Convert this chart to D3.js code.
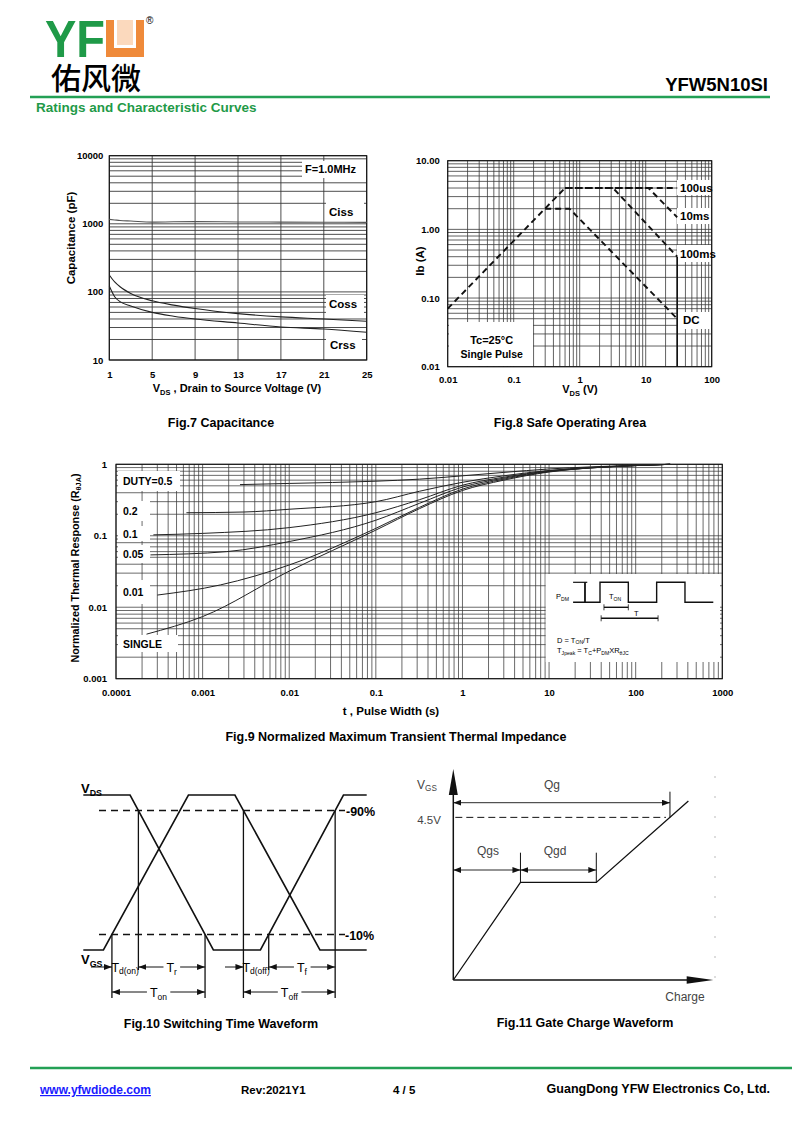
<!DOCTYPE html>
<html>
<head>
<meta charset="utf-8">
<script src="https://cdn.jsdelivr.net/npm/d3@7"></script>
<style>
  body { margin: 0; background: #fff; }
  svg text { font-family: "Liberation Sans", Arial, sans-serif; }
</style>
</head>
<body>
<svg id="page" width="800" height="1130"></svg>
<script>
// ---------- data ----------
// Fig.7 capacitance (pF) vs VDS (V)
const capVds  = [1, 1.5, 2, 3, 5, 7, 9, 13, 17, 21, 25];
const ciss    = [1160, 1140, 1120, 1100, 1060, 1070, 1075, 1065, 1060, 1055, 1050];
const coss    = [177, 140, 119, 95, 74, 64, 57, 48, 43, 40, 37];
const crss    = [122, 85, 72, 62, 50, 44, 40, 35, 30.5, 28.5, 25.5];
const capXTicks = [1, 5, 9, 13, 17, 21, 25];
const capYTicks = [10, 100, 1000, 10000];

// Fig.8 safe operating area, VDS (V) / ID (A)
const soaV100us = [0.01, 0.6, 30];
const soaI100us = [0.07, 4, 4];
const soaV10ms  = [0.6, 11, 30];
const soaI10ms  = [4, 4, 1.5];
const soaV100ms = [0.6, 3.2, 30];
const soaI100ms = [4, 4, 0.4];
const soaVdc    = [0.3, 0.7, 30];
const soaIdc    = [2, 2, 0.05];
const soaVmax   = 30;
const soaXTicks = [0.01, 0.1, 1, 10, 100];
const soaYTicks = [0.01, 0.1, 1, 10];

// Fig.9 normalized transient thermal impedance vs pulse width (s)
const zthT05   = [0.0027, 0.01, 0.1, 0.32, 1, 3, 10, 30, 100, 250];
const zth05    = [0.52, 0.54, 0.58, 0.62, 0.69, 0.77, 0.86, 0.92, 0.97, 1];
const zthT02   = [0.00065, 0.003, 0.01, 0.1, 0.32, 1, 3, 10, 30, 100, 250];
const zth02    = [0.21, 0.215, 0.235, 0.3, 0.42, 0.56, 0.69, 0.82, 0.9, 0.96, 1];
const zthT01   = [0.00027, 0.001, 0.01, 0.1, 0.32, 1, 3, 10, 30, 100, 250];
const zth01    = [0.103, 0.108, 0.13, 0.21, 0.32, 0.51, 0.66, 0.81, 0.9, 0.96, 1];
const zthT005  = [0.00025, 0.0019, 0.01, 0.1, 0.32, 1, 3, 10, 30, 100, 250];
const zth005   = [0.054, 0.06, 0.083, 0.165, 0.285, 0.48, 0.64, 0.8, 0.89, 0.96, 1];
const zthT001  = [0.0003, 0.0016, 0.01, 0.1, 0.32, 1, 3, 10, 30, 100, 250];
const zth001   = [0.0148, 0.0205, 0.039, 0.127, 0.25, 0.45, 0.62, 0.79, 0.89, 0.96, 1];
const zthTsgl  = [0.000225, 0.001, 0.01, 0.1, 0.32, 1, 3, 10, 30, 100, 250];
const zthSgl   = [0.0042, 0.0074, 0.032, 0.12, 0.24, 0.43, 0.6, 0.78, 0.89, 0.96, 1];
const dutyLabels = ['DUTY=0.5', '0.2', '0.1', '0.05', '0.01', 'SINGLE'];
const zthXTicks = [0.0001, 0.001, 0.01, 0.1, 1, 10, 100, 1000];
const zthYTicks = [0.001, 0.01, 0.1, 1];

// Fig.10 switching waveform (time units 0..100, level 0..1)
const swT   = [0, 16.5, 45.9, 62.5, 91.8, 100];
const vdsLv = [1, 1, 0, 0, 1, 1];
const gsT   = [0, 7.1, 37.1, 53.5, 83.5, 100];
const vgsLv = [0, 0, 1, 1, 0, 0];

// Fig.11 gate charge (arbitrary charge units, V)
const gcQ = [0, 3.1, 6.6, 10.85];
const gcV = [0, 2.7, 2.7, 4.95];
const gcVth = 4.5;

// Fig.9 inset pulse train
const pulseT = [-0.95, 0, 0, 1, 1, 2, 2, 3, 3, 4];
const pulseL = [0, 0, 1, 1, 0, 0, 1, 1, 0, 0];

// ---------- helpers ----------
const svg = d3.select('#page');
const GREEN = '#23a055';

function decades(lo, hi) {
  const out = [];
  for (let e = Math.round(Math.log10(lo)); e < Math.round(Math.log10(hi)); e++)
    for (let m = 1; m < 10; m++) out.push(+(m * Math.pow(10, e)).toPrecision(3));
  out.push(hi);
  return out;
}

function rich(text, s, k) {
  k = k || 3;
  let down = false;
  s.split(/(_\{[^}]*\})/).filter(p => p).forEach(p => {
    const isSub = p.startsWith('_{');
    const t = text.append('tspan').text(isSub ? p.slice(2, -1) : p);
    if (isSub) {
      t.attr('font-size', '0.68em');
      if (!down) { t.attr('dy', k); down = true; }
    } else if (down) { t.attr('dy', -k); down = false; }
  });
  return text;
}

function label(g, x, y, s, size, opts) {
  opts = opts || {};
  const t = g.append('text').attr('x', x).attr('y', y)
    .attr('font-size', size)
    .attr('font-weight', opts.weight || 'bold')
    .attr('fill', opts.fill || '#000')
    .attr('text-anchor', opts.anchor || 'start');
  if (opts.rotate) t.attr('transform', `rotate(-90,${x},${y})`);
  return rich(t, s, opts.k);
}

function grid(g, x, y, xs, ys, color, width) {
  const [xa, xb] = x.range(), [ya, yb] = y.range();
  const gg = g.append('g').attr('stroke', color).attr('stroke-width', width);
  gg.selectAll('.gh').data(ys).join('line')
    .attr('x1', xa).attr('x2', xb).attr('y1', d => y(d)).attr('y2', d => y(d));
  gg.selectAll('.gv').data(xs).join('line')
    .attr('y1', ya).attr('y2', yb).attr('x1', d => x(d)).attr('x2', d => x(d));
  g.append('rect').attr('x', xa).attr('y', yb).attr('width', xb - xa).attr('height', ya - yb)
    .attr('fill', 'none').attr('stroke', '#111').attr('stroke-width', 1.1);
}

function styleAxis(a) {
  a.select('.domain').remove();
  a.attr('font-family', '"Liberation Sans", Arial, sans-serif')
   .attr('font-size', 9.5).attr('font-weight', 'bold');
}

function whiteBox(g, x0, y0, x1, y1) {
  g.append('rect').attr('x', x0).attr('y', y0).attr('width', x1 - x0).attr('height', y1 - y0)
    .attr('fill', '#fff');
}

// ---------- header / footer ----------
const hd = svg.append('g');
hd.append('text').attr('x', 45).attr('y', 57).attr('font-size', 52).attr('font-weight', 'bold')
  .attr('fill', '#1f9a48').attr('textLength', 60).attr('lengthAdjust', 'spacingAndGlyphs').text('YF');
hd.append('rect').attr('x', 106).attr('y', 20).attr('width', 38).attr('height', 37).attr('fill', '#ef8a3a');
hd.append('rect').attr('x', 114).attr('y', 20).attr('width', 22).attr('height', 28).attr('fill', '#fff');
hd.append('rect').attr('x', 117).attr('y', 20).attr('width', 16).attr('height', 25).attr('fill', '#fbd9bd');
hd.append('text').attr('x', 146).attr('y', 24).attr('font-size', 10).text('®');
hd.append('text').attr('x', 51).attr('y', 89).attr('font-size', 30)
  .style('font-family', '"Noto Sans CJK SC", sans-serif').attr('font-weight', 500).text('佑风微');
hd.append('text').attr('x', 768).attr('y', 91).attr('font-size', 18.5).attr('font-weight', 'bold')
  .attr('text-anchor', 'end').text('YFW5N10SI');
hd.append('line').attr('x1', 30).attr('x2', 770).attr('y1', 97).attr('y2', 97)
  .attr('stroke', GREEN).attr('stroke-width', 2.5);
hd.append('text').attr('x', 36).attr('y', 112).attr('font-size', 13.5).attr('font-weight', 'bold')
  .attr('fill', '#1f9a48').text('Ratings and Characteristic Curves');

const ft = svg.append('g');
ft.append('line').attr('x1', 30).attr('x2', 792).attr('y1', 1068).attr('y2', 1068)
  .attr('stroke', GREEN).attr('stroke-width', 2.5);
ft.append('text').attr('x', 40).attr('y', 1094).attr('font-size', 12).attr('font-weight', 'bold')
  .attr('fill', '#1a1aff').attr('text-decoration', 'underline').text('www.yfwdiode.com');
ft.append('text').attr('x', 241).attr('y', 1094).attr('font-size', 11.5).attr('font-weight', 'bold').text('Rev:2021Y1');
ft.append('text').attr('x', 393).attr('y', 1094).attr('font-size', 11.5).attr('font-weight', 'bold').text('4 / 5');
ft.append('text').attr('x', 770).attr('y', 1093).attr('font-size', 12.5).attr('font-weight', 'bold')
  .attr('text-anchor', 'end').text('GuangDong YFW Electronics Co, Ltd.');

// ---------- Fig.7 capacitance ----------
const g7 = svg.append('g');
const x7 = d3.scaleLinear().domain([1, 25]).range([109.3, 366.7]);
const y7 = d3.scaleLog().domain([10, 10000]).range([360, 155.7]);
grid(g7, x7, y7, capXTicks, decades(10, 10000), '#3a3a3a', 0.9);
whiteBox(g7, 302, 161, 366, 178);
whiteBox(g7, 326, 201, 364, 221);
whiteBox(g7, 326, 295, 364, 313);
whiteBox(g7, 326, 336, 362, 354);
g7.append('g').attr('transform', 'translate(0,360)')
  .call(d3.axisBottom(x7).tickValues(capXTicks).tickSize(0).tickPadding(11)).call(styleAxis);
g7.append('g').attr('transform', 'translate(109.3,0)')
  .call(d3.axisLeft(y7).tickValues(capYTicks).tickFormat(d3.format('d')).tickSize(0).tickPadding(6))
  .call(styleAxis);
const line7 = d3.line().x(d => x7(d[0])).y(d => y7(d[1])).curve(d3.curveMonotoneX);
[[ciss, '#555', 1.1], [coss, '#222', 1.1], [crss, '#222', 1.1]].forEach(([s, c, w]) => {
  g7.append('path').datum(d3.zip(capVds, s)).attr('d', line7)
    .attr('fill', 'none').attr('stroke', c).attr('stroke-width', w);
});
label(g7, 305, 173, 'F=1.0MHz', 11);
label(g7, 329, 215.5, 'Ciss', 11.5);
label(g7, 329, 308, 'Coss', 11.5);
label(g7, 330, 349, 'Crss', 11.5);
label(g7, 237, 392, 'V_{DS} , Drain to Source Voltage (V)', 11, { anchor: 'middle' });
label(g7, 75, 238, 'Capacitance (pF)', 11.5, { anchor: 'middle', rotate: true });
label(g7, 221, 427, 'Fig.7 Capacitance', 12.5, { anchor: 'middle' });

// ---------- Fig.8 SOA ----------
const g8 = svg.append('g');
const x8 = d3.scaleLog().domain([0.01, 100]).range([447.7, 711.7]);
const y8 = d3.scaleLog().domain([0.01, 10]).range([366.7, 160.7]);
grid(g8, x8, y8, decades(0.01, 100), decades(0.01, 10), '#3a3a3a', 0.8);
whiteBox(g8, 449, 322, 533, 366);
whiteBox(g8, 677, 180, 711, 195);
whiteBox(g8, 677, 208, 711, 224);
whiteBox(g8, 677, 245, 711, 262);
whiteBox(g8, 677, 312, 711, 329);
g8.append('g').attr('transform', 'translate(0,366.7)')
  .call(d3.axisBottom(x8).tickValues(soaXTicks).tickFormat(d => String(d)).tickSize(0).tickPadding(10))
  .call(styleAxis);
g8.append('g').attr('transform', 'translate(447.7,0)')
  .call(d3.axisLeft(y8).tickValues(soaYTicks).tickFormat(d => d.toFixed(2)).tickSize(0).tickPadding(8))
  .call(styleAxis);
g8.append('line').attr('x1', x8(soaVmax)).attr('x2', x8(soaVmax))
  .attr('y1', y8(0.01)).attr('y2', y8(soaI100ms[2])).attr('stroke', '#111').attr('stroke-width', 1.6);
const line8 = d3.line().x(d => x8(d[0])).y(d => y8(d[1]));
[[soaV100us, soaI100us], [soaV10ms, soaI10ms], [soaV100ms, soaI100ms], [soaVdc, soaIdc]].forEach(([v, i]) => {
  g8.append('path').datum(d3.zip(v, i)).attr('d', line8)
    .attr('fill', 'none').attr('stroke', '#111').attr('stroke-width', 1.9).attr('stroke-dasharray', '6,4');
});
label(g8, 680, 191.5, '100us', 11.5);
label(g8, 680, 220, '10ms', 11.5);
label(g8, 680, 257.5, '100ms', 11.5);
label(g8, 683, 324, 'DC', 11.5);
label(g8, 491.7, 344, 'Tc=25°C', 11, { anchor: 'middle' });
label(g8, 491.7, 357.5, 'Single  Pulse', 10.5, { anchor: 'middle' });
label(g8, 580, 393, 'V_{DS} (V)', 11, { anchor: 'middle' });
label(g8, 424, 261, 'Ib (A)', 11.5, { anchor: 'middle', rotate: true });
label(g8, 570, 427, 'Fig.8 Safe Operating Area', 12.5, { anchor: 'middle' });

// ---------- Fig.9 transient thermal impedance ----------
const g9 = svg.append('g');
const x9 = d3.scaleLog().domain([0.0001, 1000]).range([116, 722.3]);
const y9 = d3.scaleLog().domain([0.001, 1]).range([678.7, 464.3]);
grid(g9, x9, y9, decades(0.0001, 1000), decades(0.001, 1), '#3a3a3a', 0.75);
const boxes9 = [[118, 471, 180, 491], [118, 501, 150, 521], [118, 526, 150, 541],
                [118, 545, 150, 563], [118, 580, 150, 604], [118, 635, 178, 652]];
boxes9.forEach(b => whiteBox(g9, ...b));
whiteBox(g9, 545.7, 574, 720, 662);
g9.append('g').attr('transform', 'translate(0,678.7)')
  .call(d3.axisBottom(x9).tickValues(zthXTicks).tickFormat(d => String(d)).tickSize(0).tickPadding(11))
  .call(styleAxis);
g9.append('g').attr('transform', 'translate(116,0)')
  .call(d3.axisLeft(y9).tickValues(zthYTicks).tickFormat(d => String(d)).tickSize(0).tickPadding(9))
  .call(styleAxis);
const line9 = d3.line().x(d => x9(d[0])).y(d => y9(d[1])).curve(d3.curveMonotoneX);
[[zthT05, zth05], [zthT02, zth02], [zthT01, zth01], [zthT005, zth005], [zthT001, zth001], [zthTsgl, zthSgl]]
  .forEach(([t, z]) => {
    g9.append('path').datum(d3.zip(t, z)).attr('d', line9)
      .attr('fill', 'none').attr('stroke', '#222').attr('stroke-width', 1);
  });
const labelY9 = [485, 515, 537.5, 558, 596, 648];
dutyLabels.forEach((s, i) => label(g9, 123, labelY9[i], s, 10.5));
label(g9, 391, 715, 't , Pulse Width (s)', 11.5, { anchor: 'middle' });
label(g9, 79, 568, 'Normalized Thermal Response (R_{θJA})', 10.8, { anchor: 'middle', rotate: true, k: 2 });
label(g9, 396, 741, 'Fig.9 Normalized Maximum Transient Thermal Impedance', 12.5, { anchor: 'middle' });

// inset
const xp = d3.scaleLinear().domain([0, 4]).range([600, 713.3]);
const yp = d3.scaleLinear().domain([0, 1]).range([602.3, 582.3]);
const ins = g9.append('g');
ins.append('path').datum(d3.zip(pulseT, pulseL))
  .attr('d', d3.line().x(d => xp(d[0])).y(d => yp(d[1])))
  .attr('fill', 'none').attr('stroke', '#111').attr('stroke-width', 1.4);
ins.append('line').attr('x1', xp(-0.95)).attr('x2', xp(-0.45)).attr('y1', yp(1)).attr('y2', yp(1))
  .attr('stroke', '#111').attr('stroke-width', 1.2);
ins.append('line').attr('x1', xp(-0.53)).attr('x2', xp(-0.53)).attr('y1', yp(1)).attr('y2', yp(0))
  .attr('stroke', '#111').attr('stroke-width', 1.8);
[[0.14, 1, 607.3], [0.04, 2.05, 618.3]].forEach(([a, b, y]) => {
  ins.append('line').attr('x1', xp(a)).attr('x2', xp(b)).attr('y1', y).attr('y2', y)
    .attr('stroke', '#111').attr('stroke-width', 1.4);
  [a, b].forEach(v => ins.append('line').attr('x1', xp(v)).attr('x2', xp(v))
    .attr('y1', y - 3).attr('y2', y + 3).attr('stroke', '#111').attr('stroke-width', 0.8));
});
label(ins, 556, 599, 'P_{DM}', 7.5, { weight: 'normal', k: 1.5 });
label(ins, 609, 599, 'T_{ON}', 7.5, { weight: 'normal', k: 1.5 });
label(ins, 634, 616, 'T', 7.5, { weight: 'normal' });
label(ins, 557, 642.5, 'D = T_{ON}/T', 7.5, { weight: 'normal', k: 1.5 });
label(ins, 557, 653, 'T_{Jpeak} = T_{C}+P_{DM}XR_{θJC}', 7.5, { weight: 'normal', k: 1.5 });

// ---------- arrow markers ----------
const defs = svg.append('defs');
defs.append('marker').attr('id', 'arr').attr('viewBox', '0 0 8 6').attr('refX', 8).attr('refY', 3)
  .attr('markerWidth', 8).attr('markerHeight', 6).attr('markerUnits', 'userSpaceOnUse')
  .attr('orient', 'auto-start-reverse')
  .append('path').attr('d', 'M0,0L8,3L0,6Z').attr('fill', '#111');

function arrow(g, x1, x2, y, both, w) {
  const l = g.append('line').attr('x1', x1).attr('x2', x2).attr('y1', y).attr('y2', y)
    .attr('stroke', '#111').attr('stroke-width', w || 1).attr('marker-end', 'url(#arr)');
  if (both) l.attr('marker-start', 'url(#arr)');
  return l;
}

function tagged(g, x, y, s, size) {
  const t = label(g, x, y + 4.5, s, size, { anchor: 'middle', weight: 'normal' });
  const bb = t.node().getBBox();
  g.insert('rect', () => t.node()).attr('x', bb.x - 3).attr('y', bb.y).attr('width', bb.width + 6)
    .attr('height', bb.height).attr('fill', '#fff');
}

// ---------- Fig.10 switching time ----------
const g10 = svg.append('g');
const xs = d3.scaleLinear().domain([0, 100]).range([83.3, 366.7]);
const ys = d3.scaleLinear().domain([0, 1]).range([950, 795]);
function crossings(ts, ls, lvl) {
  const out = [];
  for (let i = 0; i < ts.length - 1; i++) {
    const a = ls[i] - lvl, b = ls[i + 1] - lvl;
    if (a * b < 0) out.push(ts[i] + (ts[i + 1] - ts[i]) * a / (a - b));
  }
  return out;
}
const [dsHi1, dsHi2] = crossings(swT, vdsLv, 0.9);
const [dsLo1, dsLo2] = crossings(swT, vdsLv, 0.1);
const [gsLo1] = crossings(gsT, vgsLv, 0.1);
const [, gsHi2] = crossings(gsT, vgsLv, 0.9);
const row1 = 967, row2 = 992, rowEnd = 998;
[[gsLo1, 0.1, rowEnd], [dsHi1, 0.9, row1 + 3], [dsLo1, 0.1, rowEnd],
 [gsHi2, 0.9, rowEnd], [dsLo2, 0.1, row1 + 3], [dsHi2, 0.9, rowEnd]].forEach(([t, l, y2]) => {
  g10.append('line').attr('x1', xs(t)).attr('x2', xs(t)).attr('y1', ys(l)).attr('y2', y2)
    .attr('stroke', '#111').attr('stroke-width', 1.3);
});
[0.9, 0.1].forEach(l => g10.append('line').attr('x1', 99).attr('x2', 345).attr('y1', ys(l)).attr('y2', ys(l))
  .attr('stroke', '#111').attr('stroke-width', 1.4).attr('stroke-dasharray', '7,5'));
const lineS = d3.line().x(d => xs(d[0])).y(d => ys(d[1]));
[[swT, vdsLv], [gsT, vgsLv]].forEach(([t, l]) => g10.append('path').datum(d3.zip(t, l)).attr('d', lineS)
  .attr('fill', 'none').attr('stroke', '#111').attr('stroke-width', 1.6));
arrow(g10, 91, xs(gsLo1), row1);
arrow(g10, xs(dsHi1), xs(dsLo1), row1, true);
arrow(g10, 225, xs(gsHi2), row1);
arrow(g10, xs(dsLo2), xs(dsHi2), row1, true);
arrow(g10, xs(gsLo1), xs(dsLo1), row2, true);
arrow(g10, xs(gsHi2), xs(dsHi2), row2, true);
label(g10, (xs(gsLo1) + xs(dsHi1)) / 2, row1 + 4.5, 'T_{d(on)}', 12.5, { anchor: 'middle', weight: 'normal', k: 2.5 });
label(g10, (xs(gsHi2) + xs(dsLo2)) / 2, row1 + 4.5, 'T_{d(off)}', 12.5, { anchor: 'middle', weight: 'normal', k: 2.5 });
tagged(g10, (xs(dsHi1) + xs(dsLo1)) / 2, row1, 'T_{r}', 12.5);
tagged(g10, (xs(dsLo2) + xs(dsHi2)) / 2, row1, 'T_{f}', 12.5);
tagged(g10, (xs(gsLo1) + xs(dsLo1)) / 2, row2, 'T_{on}', 12.5);
tagged(g10, (xs(gsHi2) + xs(dsHi2)) / 2, row2, 'T_{off}', 12.5);
label(g10, 81, 793, 'V_{DS}', 13);
label(g10, 81, 964, 'V_{GS}', 13);
label(g10, 346, ys(0.9) + 5, '-90%', 12.5);
label(g10, 345, ys(0.1) + 5, '-10%', 12.5);
label(g10, 221, 1028, 'Fig.10 Switching Time Waveform', 12.5, { anchor: 'middle' });

// ---------- Fig.11 gate charge ----------
const g11 = svg.append('g');
const xq = d3.scaleLinear().domain([0, 12]).range([453.3, 713.3]);
const yv = d3.scaleLinear().domain([0, 5.83]).range([980, 769.3]);
const qgEnd = gcQ[2] + (gcVth - gcV[2]) / (gcV[3] - gcV[2]) * (gcQ[3] - gcQ[2]);
g11.selectAll('.faint').data(d3.range(0, 11)).join('line')
  .attr('x1', 715).attr('x2', 715).attr('y1', d => 776 + d * 20).attr('y2', d => 778 + d * 20)
  .attr('stroke', '#bbb').attr('stroke-width', 1);
g11.append('line').attr('x1', xq(0)).attr('x2', xq(0)).attr('y1', yv(0)).attr('y2', 792)
  .attr('stroke', '#111').attr('stroke-width', 1.5);
g11.append('line').attr('x1', xq(0)).attr('x2', 690).attr('y1', yv(0)).attr('y2', yv(0))
  .attr('stroke', '#111').attr('stroke-width', 1.5);
g11.append('path').attr('d', `M${xq(0) - 4.5},795L${xq(0)},769L${xq(0) + 4.5},795Z`).attr('fill', '#111');
g11.append('path').attr('d', `M686.7,${yv(0) - 3.7}L713.3,${yv(0)}L686.7,${yv(0) + 3.7}Z`).attr('fill', '#111');
g11.append('line').attr('x1', xq(0) + 2).attr('x2', xq(qgEnd) - 4).attr('y1', yv(gcVth)).attr('y2', yv(gcVth))
  .attr('stroke', '#111').attr('stroke-width', 1).attr('stroke-dasharray', '7,4');
g11.append('path').datum(d3.zip(gcQ, gcV))
  .attr('d', d3.line().x(d => xq(d[0])).y(d => yv(d[1])))
  .attr('fill', 'none').attr('stroke', '#111').attr('stroke-width', 1.3);
[[qgEnd, 791.7, yv(gcVth)], [gcQ[1], 852.7, yv(gcV[1])], [gcQ[2], 852.7, yv(gcV[2])]].forEach(([q, a, b]) => {
  g11.append('line').attr('x1', xq(q)).attr('x2', xq(q)).attr('y1', a).attr('y2', b)
    .attr('stroke', '#111').attr('stroke-width', 1);
});
arrow(g11, xq(0), xq(qgEnd), 802.7, true, 0.9);
arrow(g11, xq(0), xq(gcQ[1]), 870, true, 0.9);
arrow(g11, xq(gcQ[1]), xq(gcQ[2]), 870, true, 0.9);
const gray = { weight: 'normal', fill: '#444', anchor: 'middle' };
label(g11, 552, 789, 'Qg', 12, gray);
label(g11, 488, 855, 'Qgs', 12, gray);
label(g11, 555, 855, 'Qgd', 12, gray);
label(g11, 429, 824, '4.5V', 11.5, gray);
label(g11, 427, 789, 'V_{GS}', 12, { weight: 'normal', fill: '#444', anchor: 'middle', k: 2 });
label(g11, 685, 1001, 'Charge', 12, gray);
label(g11, 585, 1027, 'Fig.11 Gate Charge Waveform', 12.5, { anchor: 'middle' });
</script>
</body>
</html>
